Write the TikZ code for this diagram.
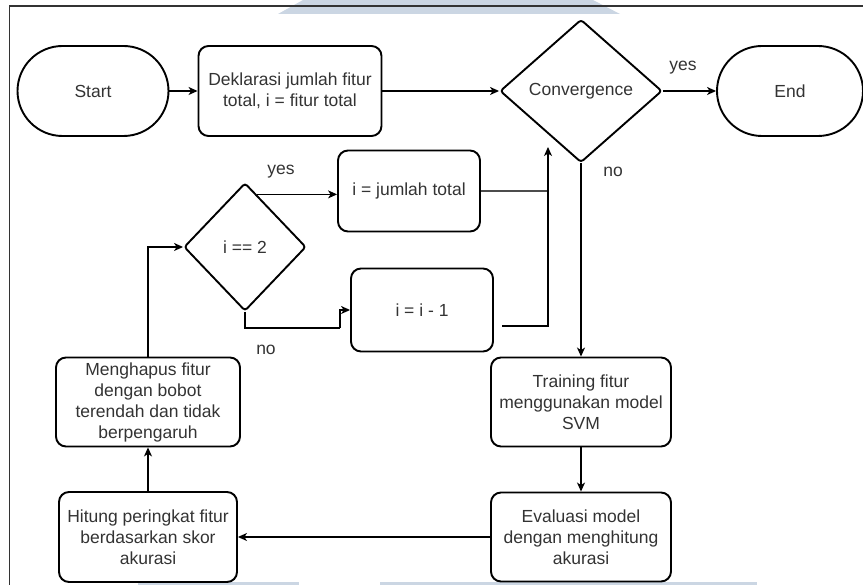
\documentclass[tikz,border=0pt]{standalone}
\usepackage{fontspec}
\setmainfont{Liberation Sans}
\usepackage{xcolor}
\usetikzlibrary{shapes.geometric,arrows.meta}
\definecolor{txtgray}{HTML}{333333}
\definecolor{markblue}{HTML}{CBD6E3}
\begin{document}
\begin{tikzpicture}[x=1pt,y=-1pt,
  every node/.style={font=\fontsize{17.5}{21}\selectfont, text=txtgray},
  procbox/.style={draw=black, line width=1.9pt, rounded corners=10pt, align=center, inner sep=0pt},
  termbox/.style={draw=black, line width=1.9pt, rounded corners=45pt, minimum height=90pt, inner sep=0pt},
  decbox/.style={draw=black, diamond, line width=1.9pt, rounded corners=3pt, inner sep=0pt},
  arr/.style={black, line width=1.2pt, -{Stealth[length=9pt,width=8pt,inset=2.5pt]}},
  plain/.style={black, line width=1.2pt}]
\useasboundingbox (0,0) rectangle (863,585);
\fill[markblue] (278,14) -- (303,0) -- (593,0) -- (620,14) -- cycle;
\fill[markblue] (138,582) rectangle (299,585);
\fill[markblue] (380,582) rectangle (757,585);
\draw[black!80, line width=1.1pt] (9.5,585) -- (9.5,6) -- (863,6);
\node[termbox, minimum width=151pt] (start) at (93,91) {Start};
\node[procbox, minimum width=183pt, minimum height=90pt] (decl) at (290,91) {Deklarasi jumlah fitur\\total, i = fitur total};
\node[decbox, minimum width=162pt, minimum height=143pt] (conv) at (581,91) {Convergence};
\node[termbox, minimum width=146pt] (end) at (790,91) {End};
\node[procbox, minimum width=142pt, minimum height=81pt] (jtot) at (409,191) {i = jumlah total};
\node[decbox, minimum width=122pt, minimum height=128pt] (dec) at (245,247) {i == 2};
\node[procbox, minimum width=142pt, minimum height=83pt] (dec1) at (422,310) {i = i - 1};
\node[procbox, minimum width=180pt, minimum height=89pt] (train) at (581,402) {Training fitur\\menggunakan model\\SVM};
\node[procbox, minimum width=180pt, minimum height=89pt] (eval) at (581,537) {Evaluasi model\\dengan menghitung\\akurasi};
\node[procbox, minimum width=178pt, minimum height=90pt] (rank) at (148,537) {Hitung peringkat fitur\\berdasarkan skor\\akurasi};
\node[procbox, minimum width=184pt, minimum height=89pt] (remove) at (148,402) {Menghapus fitur\\dengan bobot\\terendah dan tidak\\berpengaruh};
\node (yes1) at (683,68) {yes};
\node (no1) at (613,172) {no};
\node (yes2) at (281,172) {yes};
\node (no2) at (266,350) {no};
\coordinate (cin) at (548,147);
\coordinate (d1out) at (502,326);
\coordinate (dno) at (340,328);
\path (dec.north) -- (dec.east) coordinate[pos=0.19] (dyes);
\draw[arr] (start) -- (decl);
\draw[arr] (decl) -- (conv);
\draw[arr] (conv) -- (end);
\draw[arr] (conv.south) -- (train.north);
\draw[arr] (dyes) -- (dyes -| jtot.west);
\draw[black!70, line width=1.2pt] (jtot.east) -- (jtot.east -| cin);
\draw[arr] (d1out) -| (cin);
\draw[plain] (dec.south) |- (dno);
\draw[arr] (dno) |- (dec1.west);
\draw[arr] (remove.north) |- (dec.west);
\draw[arr] (rank) -- (remove);
\draw[arr] (eval) -- (rank);
\draw[arr] (train) -- (eval);
\end{tikzpicture}
\end{document}
